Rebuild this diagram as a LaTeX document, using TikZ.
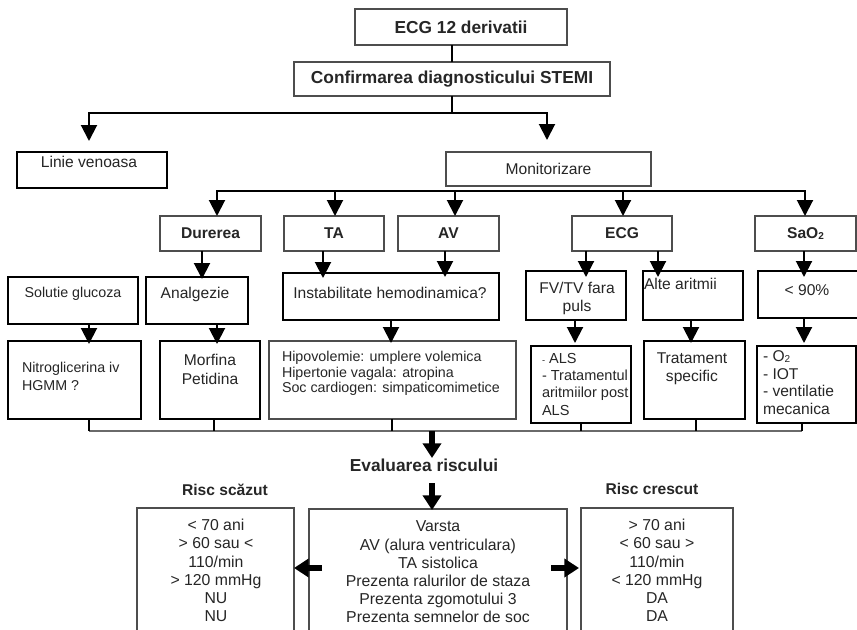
\documentclass[tikz,border=0pt]{standalone}
\usepackage{fontspec}
\setmainfont{Liberation Sans}
\usetikzlibrary{arrows.meta,calc}
\definecolor{tc}{HTML}{262626}
\definecolor{bgray}{HTML}{4D4D4D}
\definecolor{lgray}{HTML}{6A6A6A}
\newcommand{\freg}{\fontsize{11.7}{13.7}\selectfont}
\newcommand{\fsm}{\fontsize{10.7}{11.8}\selectfont}
\newcommand{\fbig}{\fontsize{13}{15}\selectfont\bfseries}
\newcommand{\fbold}{\fontsize{11.7}{13.7}\selectfont\bfseries}
\newcommand{\subtwo}{\raisebox{-0.6pt}{\fontsize{7.5}{7.5}\selectfont 2}}
\newcommand{\mkbox}[7]{%
  \pgfmathsetmacro\bxcx{(#3+#5)/2}%
  \pgfmathsetmacro\bxcy{(#4+#6)/2}%
  \pgfmathsetmacro\bxw{(#5-#3)*0.75}%
  \pgfmathsetmacro\bxh{(#6-#4)*0.75}%
  \node[#2, minimum width=\bxw pt, minimum height=\bxh pt] (#1) at (\bxcx,\bxcy) {#7};}
\begin{document}
\begin{tikzpicture}[x=0.75pt,y=-0.75pt,
  gbox/.style={draw=bgray, line width=0.9pt, inner sep=0pt, outer sep=0pt, text=tc, font=\freg},
  kbox/.style={draw=black, line width=1.1pt, inner sep=0pt, outer sep=0pt, text=tc, font=\freg},
  con/.style={draw=black, line width=1.5pt},
  arr/.style={con, -{Triangle[width=12pt,length=12pt]}},
  bigarr/.style={draw=black, line width=5pt, -{Triangle[width=13.5pt,length=11pt]}},
  busline/.style={draw=lgray, line width=1.1pt},
  txt/.style={inner sep=0pt, outer sep=0pt, text=tc, font=\freg}]
\useasboundingbox (0,0) rectangle (857,629);
\clip (0,0) rectangle (857,629);
\fill[white] (0,0) rectangle (857,629);

% ---------- boxes ----------
\mkbox{ecg12}{gbox}{355}{9}{567}{45}{\fbig ECG 12 derivatii}
\mkbox{conf}{gbox}{294}{62}{610}{96}{\fbig Confirmarea diagnosticului STEMI}
\mkbox{lv}{kbox}{17}{152}{167}{188}{}
\mkbox{mon}{gbox}{446}{152}{651}{186}{Monitorizare}
\mkbox{dur}{gbox}{160}{216}{261}{251}{\fbold Durerea}
\mkbox{ta}{gbox}{284}{216}{384}{251}{\fbold TA}
\mkbox{av}{gbox}{398}{216}{499}{251}{\fbold AV}
\mkbox{ecg}{gbox}{572}{216}{672}{251}{\fbold ECG}
\mkbox{sao}{gbox}{755}{216}{856}{251}{\fbold SaO\subtwo}
\mkbox{sol}{kbox}{8}{277}{138}{324}{}
\mkbox{ana}{kbox}{146}{277}{248}{324}{}
\mkbox{ins}{kbox}{283}{273}{499}{320}{}
\mkbox{fv}{kbox}{526}{271}{626}{320}{}
\mkbox{alt}{kbox}{643}{271}{743}{320}{}
\mkbox{lt}{kbox}{758}{271}{862}{318}{}
\mkbox{nit}{kbox}{8}{341}{141}{419}{}
\mkbox{mor}{kbox}{160}{341}{260}{419}{}
\mkbox{hip}{gbox}{269}{341}{516}{419}{}
\mkbox{als}{kbox}{531}{346}{631}{423}{}
\mkbox{tra}{kbox}{644}{341}{745}{419}{}
\mkbox{o2}{kbox}{757}{346}{856}{423}{}
\mkbox{lowb}{gbox}{137}{508}{294}{650}{}
\mkbox{midb}{gbox}{309}{509}{567}{650}{}
\mkbox{higb}{gbox}{581}{508}{733}{650}{}

% ---------- texts ----------
\node[txt] (lvt) at (89,162) {Linie venoasa};
\node[txt, font=\fsm] (solt) at (73,294) {Solutie glucoza};
\node[txt] (anat) at (195,294) {Analgezie};
\node[txt] (inst) at (390,293) {Instabilitate hemodinamica?};
\node[txt, align=center, font=\fontsize{11.7}{13.5}\selectfont] (fvt) at (577,298) {FV/TV fara\\puls};
\node[txt, anchor=west] (altt) at (644,284) {Alte aritmii};
\node[txt] (ltt) at (807,290) {< 90\%};
\node[txt, align=left, anchor=west, font=\fontsize{10.7}{13.5}\selectfont] (nitt) at (22,376) {Nitroglicerina iv\\HGMM ?};
\node[txt, align=center, font=\fontsize{11.7}{14.25}\selectfont] (mort) at (210,369.5) {Morfina\\Petidina};
\node[txt, align=left, anchor=west, font=\fsm] (hipt) at (282,373.5) {Hipovolemie: umplere volemica\\Hipertonie vagala: atropina\\Soc cardiogen: simpaticomimetice};
\node[txt, align=left, anchor=west, font=\fontsize{10.9}{13}\selectfont] (alst) at (542,384) {{\fontsize{7}{7}\selectfont -} ALS\\- Tratamentul\\aritmiilor post\\ALS};
\node[txt, align=center, font=\fontsize{11.7}{13.5}\selectfont] (trat) at (692,369) {Tratament\\specific};
\node[txt, align=left, anchor=west, font=\fontsize{11.7}{13.3}\selectfont] (o2t) at (763,382.5) {- O\subtwo\\- IOT\\- ventilatie\\mecanica};
\node[txt, font=\fbig] (eval) at (424,465) {Evaluarea riscului};
\node[txt, font=\fbold] (rsl) at (225,490) {Risc scăzut};
\node[txt, font=\fbold] (rcr) at (652,489) {Risc crescut};
\node[txt, align=center, font=\fontsize{11.85}{13.65}\selectfont] (lowt) at (216,570.5) {< 70 ani\\> 60 sau <\\110/min\\> 120 mmHg\\NU\\NU};
\node[txt, align=center, font=\fontsize{11.85}{13.65}\selectfont] (midt) at (438,572) {Varsta\\AV (alura ventriculara)\\TA sistolica\\Prezenta ralurilor de staza\\Prezenta zgomotului 3\\Prezenta semnelor de soc};
\node[txt, align=center, font=\fontsize{11.85}{13.65}\selectfont] (higt) at (657,570.5) {> 70 ani\\< 60 sau >\\110/min\\< 120 mmHg\\DA\\DA};

% ---------- connectors ----------
\draw[con] (conf.north |- ecg12.south) -- (conf.north);
\coordinate (b1) at ($(conf.south)+(0,17)$);
\draw[con] (conf.south) -- (b1);
\draw[arr] (b1) -| ($(lv.north)+(-3,-11)$);
\draw[arr] (b1) -| ($(mon.north)+(-1.5,-12)$);

\coordinate (b2) at ($(mon.south)+(0,5)$);
\draw[arr] (b2) -| ($(dur.north)+(6.5,0)$);
\draw[arr] (b2) -| ($(ta.north)+(1,0)$);
\draw[arr] (b2) -| ($(av.north)+(6.5,0)$);
\draw[arr] (b2) -| ($(ecg.north)+(1,0)$);
\draw[arr] (b2) -| ($(sao.north)+(-0.5,0)$);

\draw[arr] ($(dur.south)+(-8.5,0)$) -- ($(ana.north)+(5,2)$);
\draw[arr] ($(ta.south)+(-11,0)$) -- ($(ins.north)+(-68,5)$);
\draw[arr] ($(av.south)+(-3.5,0)$) -- ($(ins.north)+(54,4)$);
\draw[arr] ($(ecg.south)+(-36,0)$) -- ($(fv.north)+(10,6)$);
\draw[arr] ($(ecg.south)+(36,0)$) -- ($(alt.north)+(-35,6)$);
\draw[arr] ($(sao.south)+(-1.5,0)$) -- ($(lt.north)+(-6,6)$);

\draw[arr] ($(sol.south)+(16,0)$) -- ($(nit.north)+(14.5,3)$);
\draw[arr] ($(ana.south)+(20,0)$) -- ($(mor.north)+(7,3)$);
\draw[arr] (ins.south) -- ($(hip.north)+(-1.5,2)$);
\draw[arr] ($(fv.south)+(-1,0)$) -- ($(als.north)+(-6,-3)$);
\draw[arr] ($(alt.south)+(-2,0)$) -- ($(tra.north)+(-3.5,2)$);
\draw[arr] ($(lt.south)+(-6,0)$) -- ($(o2.north)+(-2.5,-3)$);

\draw[busline] ($(nit.south)+(14.5,12)$) -- ($(o2.south)+(-4.5,8)$);
\draw[con] ($(nit.south)+(14.5,0)$) -- ++(0,12);
\draw[con] ($(mor.south)+(4,0)$) -- ++(0,12);
\draw[con] ($(hip.south)+(-0.5,0)$) -- ++(0,12);
\draw[con] (als.south) -- ++(0,8);
\draw[con] ($(tra.south)+(1.5,0)$) -- ++(0,12);
\draw[con] ($(o2.south)+(-4.5,0)$) -- ++(0,8);

\coordinate (b3) at (432,431);
\coordinate (e1) at (432,458);
\coordinate (e2) at (432,483);
\draw[bigarr] (b3) -- (e1);
\draw[bigarr] (e2) -- ($(midb.north)+(-6,1)$);
\draw[bigarr] ($(midb.north west)+(13,59)$) -- ($(lowb.north east)+(0,60)$);
\draw[bigarr] ($(midb.north east)+(-16,59)$) -- ($(higb.north west)+(-2,60)$);
\end{tikzpicture}
\end{document}
